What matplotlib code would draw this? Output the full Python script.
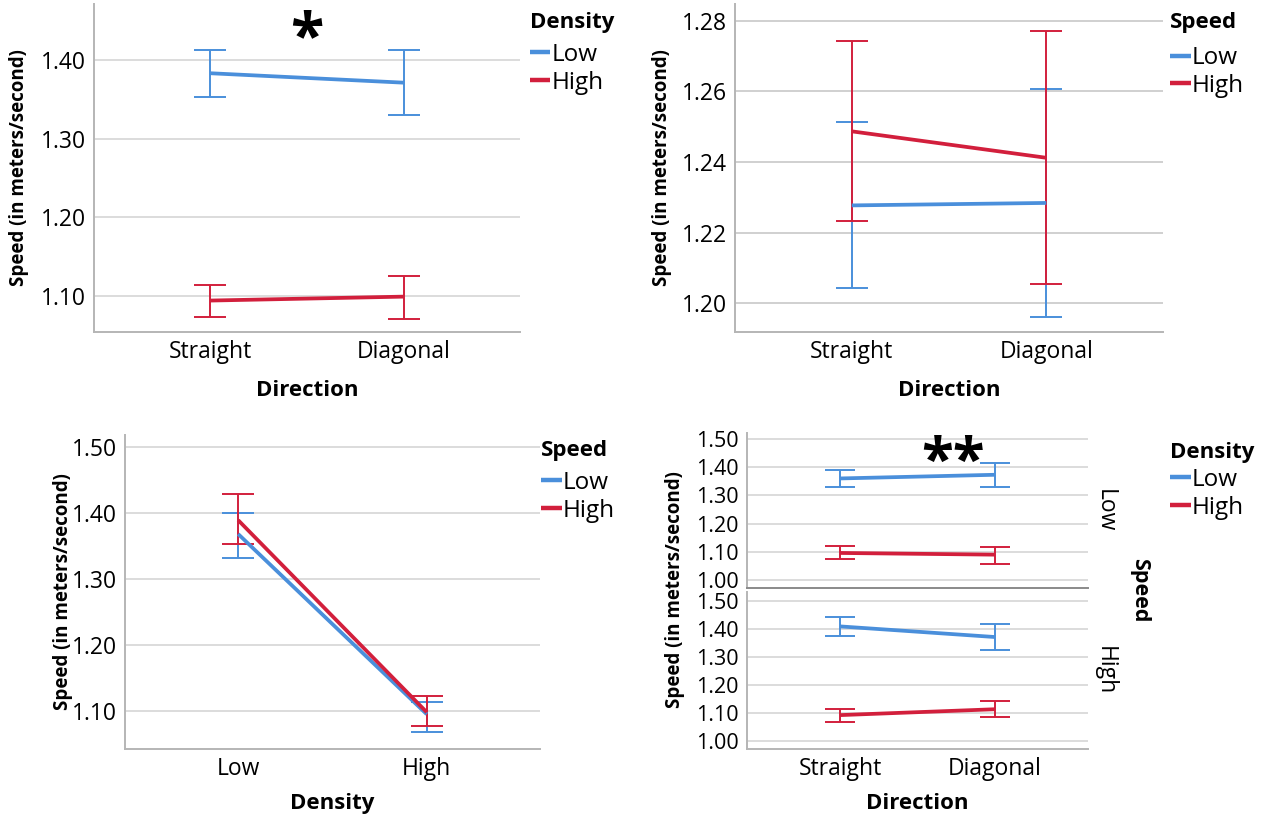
import numpy as np
import matplotlib.pyplot as plt

plt.rcParams['font.family'] = ['Open Sans', 'DejaVu Sans']

BLUE = '#4a8fdb'
RED = '#d21f3c'
GRID = '#d9d9d9'
SPINE = '#b5b5b5'

directions = ['Straight', 'Diagonal']
densities = ['Low', 'High']
levels = ['Low', 'High']

# panel 1: Direction x Density (legend Density)
p1_low_mean = [1.383, 1.371]
p1_low_hi = [1.413, 1.412]
p1_low_lo = [1.353, 1.330]
p1_high_mean = [1.094, 1.099]
p1_high_hi = [1.114, 1.125]
p1_high_lo = [1.073, 1.071]

# panel 2: Direction x Speed (legend Speed)
p2_low_mean = [1.2277, 1.2284]
p2_low_hi = [1.2513, 1.2607]
p2_low_lo = [1.2042, 1.1962]
p2_high_mean = [1.2487, 1.2412]
p2_high_hi = [1.2743, 1.2772]
p2_high_lo = [1.2232, 1.2053]

# panel 3: Density x Speed (legend Speed)
p3_low_mean = [1.368, 1.095]
p3_low_hi = [1.400, 1.114]
p3_low_lo = [1.332, 1.068]
p3_high_mean = [1.389, 1.098]
p3_high_hi = [1.428, 1.123]
p3_high_lo = [1.353, 1.077]

# panel 4: Direction x Density, split by Speed (top = Low speed, bottom = High speed)
p4a_low_mean = [1.360, 1.373]
p4a_low_hi = [1.391, 1.413]
p4a_low_lo = [1.328, 1.331]
p4a_high_mean = [1.096, 1.090]
p4a_high_hi = [1.119, 1.116]
p4a_high_lo = [1.076, 1.058]
p4b_low_mean = [1.409, 1.371]
p4b_low_hi = [1.443, 1.419]
p4b_low_lo = [1.376, 1.326]
p4b_high_mean = [1.092, 1.113]
p4b_high_hi = [1.114, 1.141]
p4b_high_lo = [1.067, 1.085]

ticks_a = [1.10, 1.20, 1.30, 1.40]
ticks_b = [1.20, 1.22, 1.24, 1.26, 1.28]
ticks_c = [1.10, 1.20, 1.30, 1.40, 1.50]
ticks_d = [1.00, 1.10, 1.20, 1.30, 1.40, 1.50]


def series(ax, mean, hi, lo, color, label, capsize=11.5):
    x = np.arange(len(mean))
    mean = np.array(mean)
    err = [mean - np.array(lo), np.array(hi) - mean]
    ax.errorbar(x, mean, yerr=err, fmt='none', ecolor=color, elinewidth=1.4,
                capsize=capsize, capthick=1.4, zorder=3)
    ax.plot(x, mean, color=color, lw=2.7, label=label, zorder=4,
            solid_capstyle='butt')


def style(ax, ticks, ylim, cats, fs=16.5, grid=GRID):
    ax.set_xlim(-0.6, 1.6)
    ax.set_ylim(*ylim)
    ax.set_yticks(ticks)
    ax.set_yticklabels([f'{t:.2f}' for t in ticks], fontsize=fs)
    ax.set_xticks(range(len(cats)))
    ax.set_xticklabels(cats, fontsize=16.5)
    ax.tick_params(length=0, pad=6)
    ax.grid(axis='y', color=grid, lw=1.3, zorder=0)
    ax.set_axisbelow(True)
    for s in ['top', 'right']:
        ax.spines[s].set_visible(False)
    for s in ['left', 'bottom']:
        ax.spines[s].set_color(SPINE)
        ax.spines[s].set_linewidth(1.4)


def legend(ax, title, x, ty, ly):
    # title drawn as its own text so the gap to the entries can match
    fig.text(x, ty, title, fontsize=16, fontweight='bold', ha='left', va='center')
    leg = ax.legend(loc='upper left', bbox_to_anchor=(x, ly),
                    bbox_transform=fig.transFigure, frameon=False,
                    fontsize=17.5, handlelength=0.85, handletextpad=0.05,
                    labelspacing=0.15, borderpad=0, borderaxespad=0)
    for h in leg.get_lines():
        h.set_linewidth(3.2)


fig = plt.figure(figsize=(12.61, 8.19), dpi=100)
ylab = 'Speed (in meters/second)'

# top left
ax1 = fig.add_axes([0.0745, 0.5946, 0.3378, 0.4005])
series(ax1, p1_low_mean, p1_low_hi, p1_low_lo, BLUE, levels[0])
series(ax1, p1_high_mean, p1_high_hi, p1_high_lo, RED, levels[1])
style(ax1, ticks_a, (1.054, 1.471), directions)
ax1.set_ylabel(ylab, fontsize=13.5, fontweight='bold')
ax1.yaxis.set_label_coords(-0.152, 0.5)
ax1.set_xlabel('Direction', fontsize=16, fontweight='bold')
ax1.xaxis.set_label_coords(0.5, -0.146)
ax1.text(0.5, 1.426, '*', fontsize=44, fontweight='bold', ha='center', va='center')
legend(ax1, 'Density', 0.420, 0.9731, 0.9475)

# top right
ax2 = fig.add_axes([0.5829, 0.5946, 0.3394, 0.4005])
series(ax2, p2_low_mean, p2_low_hi, p2_low_lo, BLUE, levels[0])
series(ax2, p2_high_mean, p2_high_hi, p2_high_lo, RED, levels[1])
style(ax2, ticks_b, (1.1918, 1.2848), directions, grid='#cdcdcd')
ax2.set_ylabel(ylab, fontsize=13.5, fontweight='bold')
ax2.yaxis.set_label_coords(-0.147, 0.5)
ax2.set_xlabel('Direction', fontsize=16, fontweight='bold')
ax2.xaxis.set_label_coords(0.5, -0.146)
legend(ax2, 'Speed', 0.928, 0.9731, 0.9438)

# bottom left
ax3 = fig.add_axes([0.0991, 0.0855, 0.3291, 0.3834])
series(ax3, p3_low_mean, p3_low_hi, p3_low_lo, BLUE, levels[0])
series(ax3, p3_high_mean, p3_high_hi, p3_high_lo, RED, levels[1])
style(ax3, ticks_c, (1.0424, 1.518), densities)
ax3.set_ylabel(ylab, fontsize=13.5, fontweight='bold')
ax3.yaxis.set_label_coords(-0.126, 0.5)
ax3.set_xlabel('Density', fontsize=16, fontweight='bold')
ax3.xaxis.set_label_coords(0.5, -0.14)
legend(ax3, 'Speed', 0.429, 1 - 450 / 819, 0.4249)

# bottom right, split by speed
ax4a = fig.add_axes([0.5924, 0.2821, 0.2704, 0.1892])
ax4b = fig.add_axes([0.5924, 0.0855, 0.2704, 0.1917])
series(ax4a, p4a_low_mean, p4a_low_hi, p4a_low_lo, BLUE, levels[0], 10.5)
series(ax4a, p4a_high_mean, p4a_high_hi, p4a_high_lo, RED, levels[1], 10.5)
series(ax4b, p4b_low_mean, p4b_low_hi, p4b_low_lo, BLUE, levels[0], 10.5)
series(ax4b, p4b_high_mean, p4b_high_hi, p4b_high_lo, RED, levels[1], 10.5)
style(ax4a, ticks_d, (0.972, 1.521), directions, fs=15.5)
style(ax4b, ticks_d, (0.971, 1.532), directions, fs=15.5)
ax4a.tick_params(axis='x', labelbottom=False)
ax4a.spines['bottom'].set_color('#8a8a8a')
ax4a.text(0.73, 1.411, '**', fontsize=42, fontweight='bold', ha='center', va='center')
ax4a.text(1.05, 0.5, levels[0], transform=ax4a.transAxes, rotation=270,
          fontsize=16.5, ha='center', va='center')
ax4b.text(1.05, 0.5, levels[1], transform=ax4b.transAxes, rotation=270,
          fontsize=16.5, ha='center', va='center')
fig.text(0.904, 0.2796, 'Speed', rotation=270, fontsize=15.5, fontweight='bold',
         ha='center', va='center')
ax4b.set_xlabel('Direction', fontsize=16, fontweight='bold')
ax4b.xaxis.set_label_coords(0.5, -0.282)
fig.text(0.535, 0.2796, ylab, rotation=90, fontsize=13.5, fontweight='bold',
         ha='center', va='center')
legend(ax4a, 'Density', 0.928, 1 - 452 / 819, 0.4286)

fig.savefig('out.png', dpi=100)
